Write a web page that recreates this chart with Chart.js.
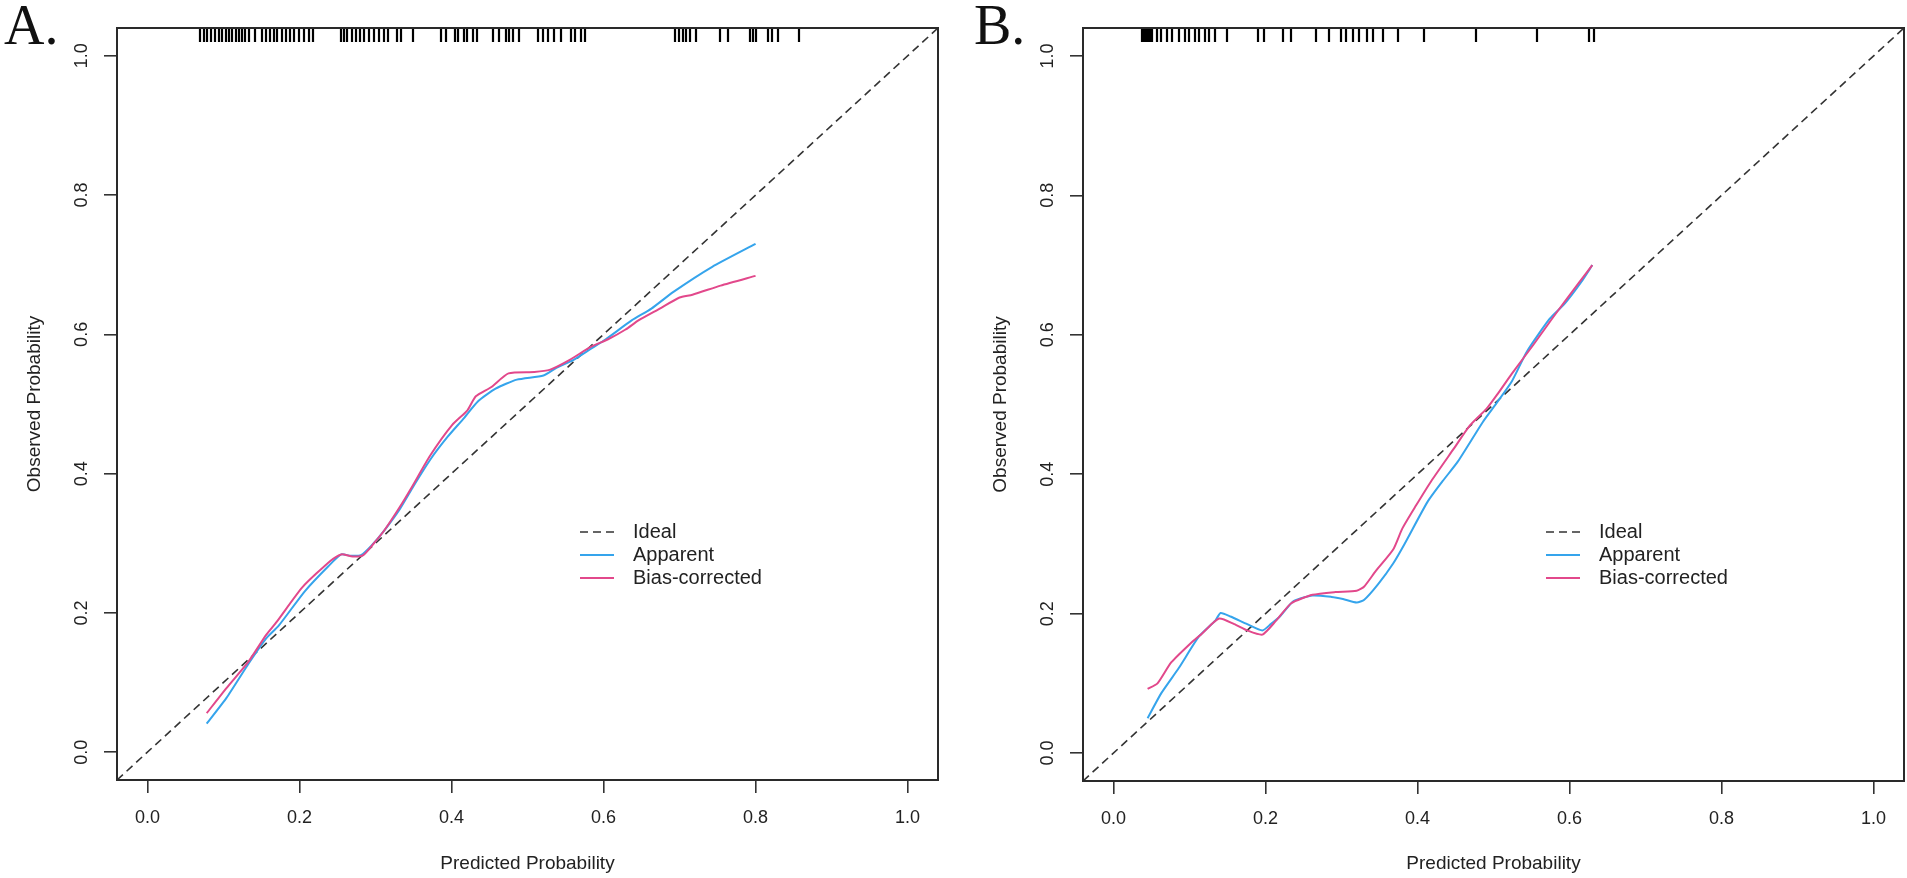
<!DOCTYPE html>
<html>
<head>
<meta charset="utf-8">
<script src="https://cdn.jsdelivr.net/npm/chart.js@4.4.1/dist/chart.umd.min.js"></script>
<style>
  html, body { margin: 0; padding: 0; background: #fff; }
  #wrap { position: relative; width: 1907px; height: 878px; }
  canvas { position: absolute; top: 0; }
  #panelA { left: 0; }
  #panelB { left: 953px; }
</style>
</head>
<body>
<div id="wrap">
  <canvas id="panelA" width="953" height="878"></canvas>
  <canvas id="panelB" width="954" height="878"></canvas>
</div>
<script>
// tick values, both axes
const axisTicks = [0, 0.2, 0.4, 0.6, 0.8, 1.0];
// ideal diagonal (ends at the axis limits)
const idealLine = [-0.04, 1.04];

// A. apparent
const aAppX = [0.078, 0.104, 0.133, 0.156, 0.173, 0.207, 0.238, 0.255, 0.267, 0.281, 0.295, 0.312, 0.332, 0.350, 0.372,
  0.395, 0.415, 0.435, 0.458, 0.486, 0.521, 0.538, 0.560, 0.583, 0.603, 0.637, 0.663, 0.692, 0.743, 0.800];
const aAppY = [0.041, 0.078, 0.127, 0.163, 0.182, 0.231, 0.267, 0.284, 0.282, 0.283, 0.297, 0.319, 0.349, 0.382, 0.420,
  0.453, 0.478, 0.504, 0.522, 0.535, 0.541, 0.552, 0.563, 0.579, 0.593, 0.620, 0.637, 0.661, 0.697, 0.730];
// A. bias-corrected
const aBiasX = [0.078, 0.104, 0.133, 0.156, 0.170, 0.204, 0.241, 0.255, 0.270, 0.284, 0.298, 0.312, 0.332, 0.347, 0.372,
  0.401, 0.421, 0.432, 0.452, 0.475, 0.509, 0.529, 0.555, 0.583, 0.606, 0.629, 0.646, 0.674, 0.700, 0.717, 0.754, 0.800];
const aBiasY = [0.056, 0.092, 0.130, 0.168, 0.187, 0.237, 0.275, 0.284, 0.281, 0.283, 0.300, 0.319, 0.352, 0.379, 0.426,
  0.470, 0.491, 0.511, 0.524, 0.544, 0.546, 0.549, 0.563, 0.582, 0.593, 0.607, 0.620, 0.637, 0.653, 0.657, 0.670, 0.684];
// A. rug of predicted probabilities
const aRug = [0.069, 0.074, 0.079, 0.083, 0.089, 0.094, 0.098, 0.103, 0.107, 0.111, 0.116, 0.120, 0.125, 0.129, 0.134,
  0.142, 0.151, 0.156, 0.161, 0.166, 0.170, 0.177, 0.182, 0.187, 0.193, 0.200, 0.206, 0.212, 0.218,
  0.255, 0.259, 0.263, 0.269, 0.275, 0.280, 0.285, 0.292, 0.298, 0.305, 0.311, 0.316, 0.328, 0.334, 0.349,
  0.386, 0.393, 0.404, 0.409, 0.416, 0.421, 0.428, 0.434, 0.455, 0.462, 0.472, 0.476, 0.481, 0.489,
  0.514, 0.521, 0.527, 0.535, 0.544, 0.557, 0.563, 0.570, 0.576,
  0.694, 0.699, 0.704, 0.709, 0.714, 0.721, 0.753, 0.764, 0.793, 0.796, 0.801, 0.816, 0.822, 0.829, 0.857];

// B. apparent
const bAppX = [0.045, 0.063, 0.086, 0.113, 0.134, 0.141, 0.154, 0.176, 0.196, 0.207, 0.219, 0.237, 0.262, 0.287, 0.302,
  0.320, 0.330, 0.348, 0.368, 0.383, 0.413, 0.433, 0.453, 0.486, 0.504, 0.524, 0.544, 0.574, 0.594, 0.615, 0.630];
const bAppY = [0.050, 0.086, 0.122, 0.168, 0.190, 0.201, 0.196, 0.185, 0.176, 0.185, 0.196, 0.218, 0.226, 0.224, 0.221,
  0.216, 0.220, 0.242, 0.272, 0.300, 0.360, 0.390, 0.418, 0.475, 0.502, 0.533, 0.576, 0.623, 0.645, 0.675, 0.700];
// B. bias-corrected
const bBiasX = [0.045, 0.058, 0.076, 0.101, 0.116, 0.139, 0.159, 0.176, 0.196, 0.214, 0.234, 0.262, 0.292, 0.320, 0.330,
  0.345, 0.368, 0.380, 0.398, 0.418, 0.448, 0.469, 0.491, 0.506, 0.524, 0.552, 0.577, 0.594, 0.630];
const bBiasY = [0.092, 0.100, 0.130, 0.157, 0.171, 0.193, 0.185, 0.176, 0.170, 0.190, 0.215, 0.227, 0.231, 0.233, 0.239,
  0.261, 0.292, 0.322, 0.355, 0.390, 0.437, 0.470, 0.494, 0.516, 0.544, 0.585, 0.623, 0.648, 0.700];
// B. rug
const bRug = [0.037, 0.039, 0.041, 0.043, 0.045, 0.048, 0.051, 0.058, 0.062, 0.071, 0.077, 0.086, 0.094, 0.100, 0.107,
  0.113, 0.120, 0.126, 0.134, 0.149, 0.190, 0.198, 0.223, 0.234, 0.267, 0.283, 0.300, 0.306, 0.315, 0.323, 0.333,
  0.341, 0.355, 0.375, 0.409, 0.477, 0.557, 0.625, 0.632];

const legendLabels = ['Ideal', 'Apparent', 'Bias-corrected'];

const BLUE = '#35a4ec';
const PINK = '#e2488b';
const IDEAL = '#333';
const INK = '#222';
const SANS = '"Liberation Sans", Arial, sans-serif';

Chart.defaults.font.family = SANS;
Chart.defaults.color = INK;

function pts(xs, ys) {
  return xs.map((v, i) => ({ x: v, y: ys[i] }));
}

// box, rug, rotated y labels, legend and panel letter
const decor = {
  id: 'decor',
  afterDraw(chart, args, opts) {
    const { ctx, chartArea: a, scales: { x, y } } = chart;
    ctx.save();

    ctx.strokeStyle = '#000';
    ctx.lineWidth = 2.2;
    opts.rug.forEach(v => {
      const px = Math.round(x.getPixelForValue(v));
      ctx.beginPath();
      ctx.moveTo(px, a.top);
      ctx.lineTo(px, a.top + 14);
      ctx.stroke();
    });

    ctx.strokeStyle = '#2a2a2a';
    ctx.lineWidth = 2;
    ctx.strokeRect(a.left, a.top, a.right - a.left, a.bottom - a.top);

    ctx.fillStyle = INK;
    ctx.font = '18px ' + SANS;
    ctx.textAlign = 'center';
    ctx.textBaseline = 'middle';
    y.ticks.forEach(t => {
      ctx.save();
      ctx.translate(a.left - 35, y.getPixelForValue(t.value));
      ctx.rotate(-Math.PI / 2);
      ctx.fillText(t.value.toFixed(1), 0, 0);
      ctx.restore();
    });

    // legend
    const styles = [
      { color: IDEAL, dash: [8, 5], width: 1.6 },
      { color: BLUE, dash: [], width: 2 },
      { color: PINK, dash: [], width: 2 }
    ];
    ctx.font = '20px ' + SANS;
    ctx.textAlign = 'left';
    legendLabels.forEach((lab, i) => {
      const ly = a.top + 504 + i * 23;
      ctx.strokeStyle = styles[i].color;
      ctx.lineWidth = styles[i].width;
      ctx.setLineDash(styles[i].dash);
      ctx.beginPath();
      ctx.moveTo(a.left + 463, ly);
      ctx.lineTo(a.left + 497, ly);
      ctx.stroke();
      ctx.setLineDash([]);
      ctx.fillText(lab, a.left + 516, ly);
    });

    ctx.fillStyle = '#111';
    ctx.font = '56px "Liberation Serif", "Times New Roman", serif';
    ctx.textBaseline = 'alphabetic';
    ctx.fillText(opts.letter, opts.letterX, 44);
    ctx.restore();
  }
};

function makePanel(id, cfg) {
  const axisBase = {
    type: 'linear',
    min: -0.04,
    max: 1.04,
    border: { display: false },
    grid: { drawOnChartArea: false, drawTicks: true, tickLength: 13, color: '#333', lineWidth: 1.6 },
    afterBuildTicks: s => { s.ticks = axisTicks.map(v => ({ value: v })); }
  };
  return new Chart(document.getElementById(id).getContext('2d'), {
    type: 'scatter',
    data: {
      datasets: [
        {
          label: 'Ideal',
          data: pts(idealLine, idealLine),
          showLine: true, pointRadius: 0,
          borderColor: IDEAL, borderWidth: 1.6, borderDash: [8, 5],
          order: 3
        },
        {
          label: 'Apparent',
          data: pts(cfg.appX, cfg.appY),
          showLine: true, pointRadius: 0,
          borderColor: BLUE, borderWidth: 2, tension: 0.2,
          order: 2
        },
        {
          label: 'Bias-corrected',
          data: pts(cfg.biasX, cfg.biasY),
          showLine: true, pointRadius: 0,
          borderColor: PINK, borderWidth: 2, tension: 0.2,
          order: 1
        }
      ]
    },
    options: {
      responsive: false,
      devicePixelRatio: 1,
      animation: false,
      events: [],
      layout: { padding: { left: 0, top: 28, right: cfg.padRight, bottom: 0 } },
      scales: {
        x: Object.assign({}, axisBase, {
          position: 'bottom',
          afterFit: s => { s.height = cfg.xHeight; },
          ticks: { padding: 14, font: { size: 18 }, color: INK, callback: v => v.toFixed(1) },
          title: { display: true, text: 'Predicted Probability', font: { size: 19 }, color: INK, padding: { top: 0, bottom: 2.6 } }
        }),
        y: Object.assign({}, axisBase, {
          position: 'left',
          afterFit: s => { s.width = cfg.yWidth; },
          ticks: { display: false },
          title: { display: true, text: 'Observed Probability', font: { size: 19 }, color: INK, padding: { top: cfg.yTitlePad, bottom: 0 } }
        })
      },
      plugins: {
        legend: { display: false },
        tooltip: { enabled: false },
        decor: { rug: cfg.rug, letter: cfg.letter, letterX: cfg.letterX }
      }
    },
    plugins: [decor]
  });
}

makePanel('panelA', {
  appX: aAppX, appY: aAppY, biasX: aBiasX, biasY: aBiasY, rug: aRug,
  letter: 'A.', letterX: 4, yWidth: 117, xHeight: 98, padRight: 15, yTitlePad: 23.6
});
makePanel('panelB', {
  appX: bAppX, appY: bAppY, biasX: bBiasX, biasY: bBiasY, rug: bRug,
  letter: 'B.', letterX: 21, yWidth: 130, xHeight: 97, padRight: 3, yTitlePad: 36.6
});
</script>
</body>
</html>
